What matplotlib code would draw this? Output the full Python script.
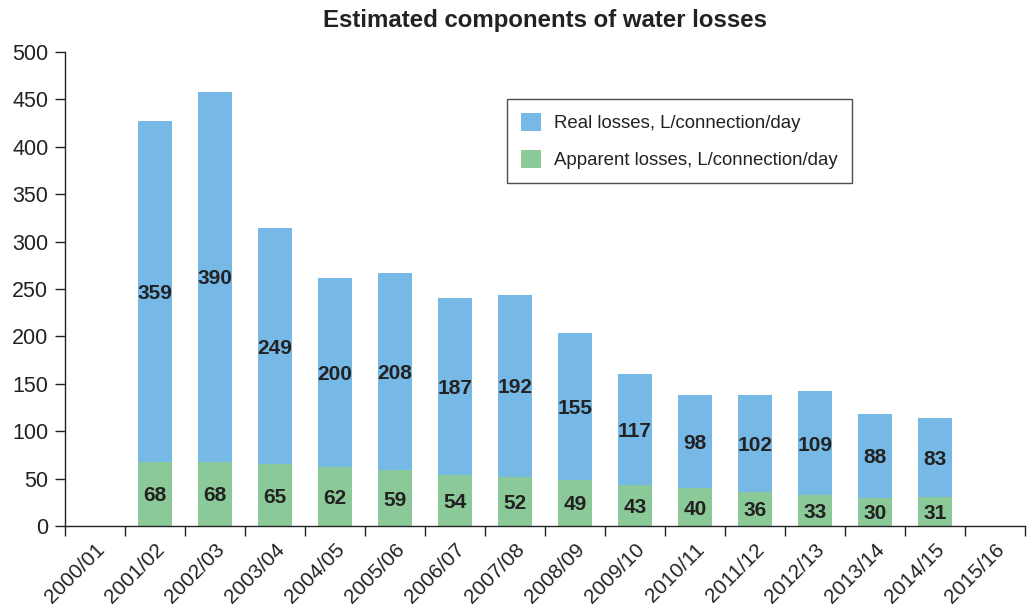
import matplotlib.pyplot as plt
import numpy as np

plt.rcParams['font.family'] = ['Liberation Sans', 'DejaVu Sans']

years = ['2000/01', '2001/02', '2002/03', '2003/04', '2004/05', '2005/06', '2006/07', '2007/08',
         '2008/09', '2009/10', '2010/11', '2011/12', '2012/13', '2013/14', '2014/15', '2015/16']
# no data for the first and last year
apparent = [None, 68, 68, 65, 62, 59, 54, 52, 49, 43, 40, 36, 33, 30, 31, None]
real = [None, 359, 390, 249, 200, 208, 187, 192, 155, 117, 98, 102, 109, 88, 83, None]

blue = '#77b9e6'
green = '#8bc999'
txt = '#222222'

fig = plt.figure(figsize=(10.27, 6.09), dpi=100)
ax = fig.add_axes([65 / 1027, 1 - 526 / 609, 960 / 1027, 474 / 609])

idx = [i for i in range(len(years)) if real[i] is not None]
x = np.array(idx)
app = np.array([apparent[i] for i in idx])
rl = np.array([real[i] for i in idx])

w = 0.58
ax.bar(x, rl, w, bottom=app, color=blue, label='Real losses, L/connection/day')
ax.bar(x, app, w, color=green, label='Apparent losses, L/connection/day')

for xi, a, r in zip(x, app, rl):
    ax.text(xi, a / 2, str(a), ha='center', va='center_baseline', fontsize=15,
            fontweight='bold', color=txt)
    ax.text(xi, a + r / 2, str(r), ha='center', va='center_baseline', fontsize=15,
            fontweight='bold', color=txt)

ax.set_xlim(-0.5, len(years) - 0.5)
ax.set_ylim(0, 500)
ax.set_yticks(range(0, 501, 50))
ax.tick_params(axis='y', labelsize=15.5, length=7, width=1, colors=txt, labelcolor=txt, pad=5)

# boundary ticks as major, labels sit on the category centres
ax.set_xticks(np.arange(-0.5, len(years), 1))
ax.set_xticklabels([])
ax.set_xticks(np.arange(len(years)), minor=True)
ax.set_xticklabels(years, minor=True, rotation=45, ha='right', rotation_mode='anchor')
ax.tick_params(axis='x', which='major', length=7, width=1, colors=txt)
ax.tick_params(axis='x', which='minor', length=0, labelsize=15, labelcolor=txt, pad=10)

for s in ['top', 'right']:
    ax.spines[s].set_visible(False)
for s in ['left', 'bottom']:
    ax.spines[s].set_color(txt)
    ax.spines[s].set_linewidth(1)

leg = ax.legend(loc='upper left', bbox_to_anchor=(442 / 960, 1 - 47 / 474), fontsize=13.4,
                frameon=True, fancybox=False, edgecolor=txt, handlelength=1.1, handleheight=1.1,
                borderpad=0.75, labelspacing=0.95, handletextpad=0.7, borderaxespad=0)
leg.get_frame().set_linewidth(1)
for t in leg.get_texts():
    t.set_color(txt)

ax.set_title('Estimated components of water losses', fontsize=17.3, fontweight='bold',
             color=txt, pad=18)

fig.savefig('out.png', dpi=100)
